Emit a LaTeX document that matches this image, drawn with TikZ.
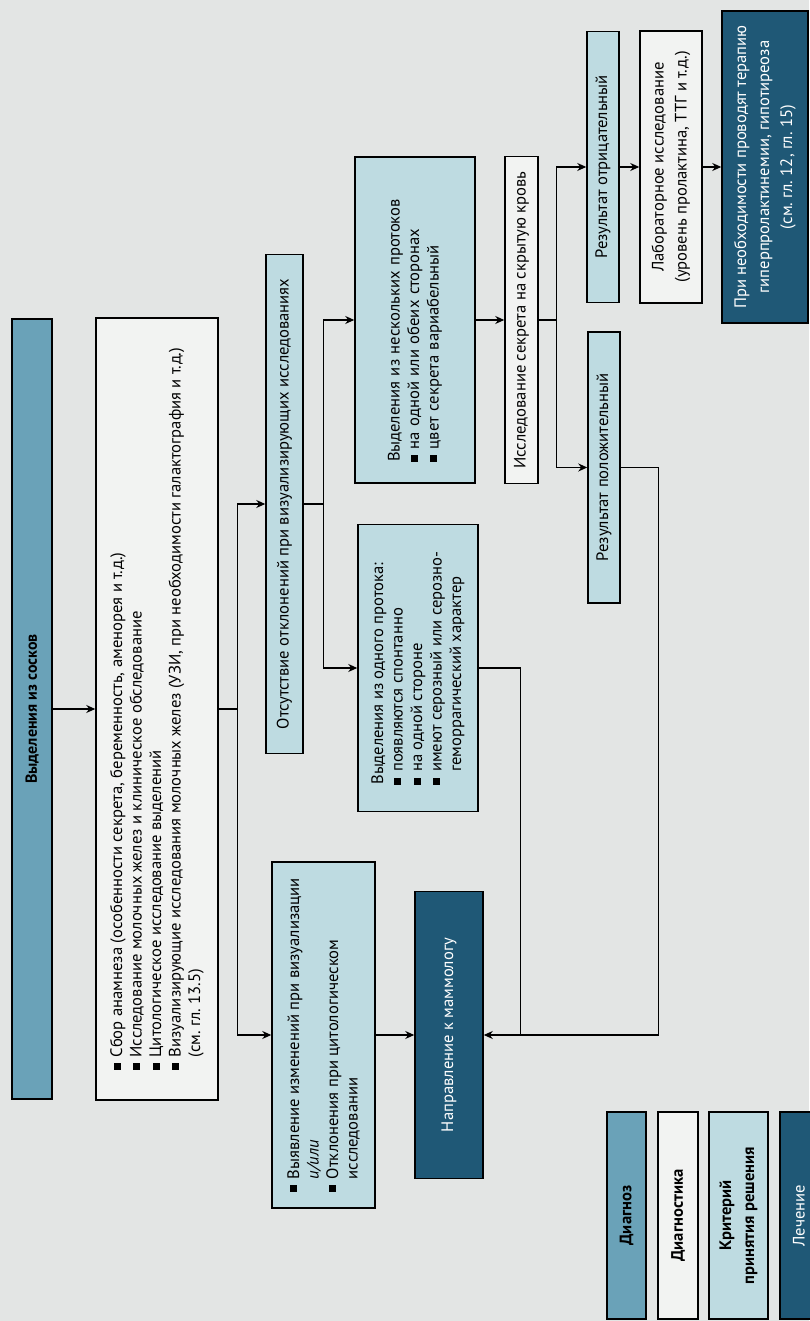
\documentclass[tikz,border=0pt]{standalone}
\usepackage{fontspec}
\setmainfont{PT Sans}
\usetikzlibrary{arrows.meta,calc}

\definecolor{pagegray}{RGB}{227,229,228}
\definecolor{diagblue}{RGB}{106,162,184}
\definecolor{critblue}{RGB}{190,219,225}
\definecolor{treatblue}{RGB}{31,88,118}
\definecolor{testwhite}{RGB}{242,243,242}

\newcommand{\chartfont}{\fontsize{16.6}{19.5}\selectfont}
\newcommand{\widefont}{\fontsize{16.6}{23}\selectfont}
\newcommand{\sqbul}{\rule[0.1em]{0.42em}{0.42em}\hspace{0.35em}}
\newcommand{\sqgap}{\hphantom{\sqbul}}
\frenchspacing

\begin{document}
\begin{tikzpicture}[
  x=1pt,y=1pt,
  every node/.style={font=\chartfont},
  box/.style={draw, line width=1.5pt, inner sep=4pt, align=center},
  diag/.style={box, fill=diagblue},
  test/.style={box, fill=testwhite},
  crit/.style={box, fill=critblue},
  treat/.style={box, fill=treatblue, text=white},
  arrow/.style={-{Stealth[length=9pt,width=8pt]}, line width=1.3pt},
  link/.style={line width=1.3pt}
]
\fill[pagegray] (0,0) rectangle (809,1321);
\useasboundingbox (0,0) rectangle (809,1321);

\begin{scope}[rotate=90, transform shape]
% flow boxes
\node[diag, minimum width=780, minimum height=40, font=\fontsize{16}{19.5}\selectfont\bfseries] (start) at (612,-32) {Выделения из сосков};
\node[test, minimum width=782, minimum height=122, align=left] (exams) at (612,-157)
  {\sqbul Сбор анамнеза (особенности секрета, беременность, аменорея и т.д.)\\
   \sqbul Исследование молочных желез и клиническое обследование\\
   \sqbul Цитологическое исследование выделений\\
   \sqbul Визуализирующие исследования молочных желез (УЗИ, при необходимости галактография и т.д.)\\
   \sqgap(см. гл. 13.5)};
\node[crit, minimum width=346, minimum height=103, align=left] (found) at (286,-323.5)
  {\sqbul Выявление изменений при визуализации\\
   \sqgap\textit{и/или}\\
   \sqbul Отклонения при цитологическом\\
   \sqgap исследовании};
\node[crit, minimum width=499, minimum height=37] (normal) at (817,-284.5) {Отсутствие отклонений при визуализирующих исследованиях};
\node[treat, minimum width=287, minimum height=68] (refer) at (286,-449) {Направление к маммологу};
\node[crit, minimum width=287, minimum height=120, align=left] (single) at (653,-418)
  {Выделения из одного протока:\\
   \sqbul появляются спонтанно\\
   \sqbul на одной стороне\\
   \sqbul имеют серозный или серозно-\\
   \sqgap геморрагический характер};
\node[crit, minimum width=326, minimum height=120, text width=284, inner xsep=21, align=left] (multi) at (1001,-415)
  {Выделения из нескольких протоков\\
   \sqbul на одной или обеих сторонах\\
   \sqbul цвет секрета вариабельный};
\node[test, minimum width=327, minimum height=33] (blood) at (1001,-521.5) {Исследование секрета на скрытую кровь};
\node[crit, minimum width=271, minimum height=32] (neg) at (1154,-603) {Результат отрицательный};
\node[crit, minimum width=271, minimum height=32] (pos) at (853.5,-604) {Результат положительный};
\node[test, minimum width=272, minimum height=62, font=\widefont] (lab) at (1154,-671)
  {Лабораторное исследование\\(уровень пролактина, ТТГ и т.д.)};
\node[treat, minimum width=312, minimum height=86, font=\widefont] (therapy) at (1154,-765)
  {При необходимости проводят терапию\\гиперпролактинемии, гипотиреоза\\(см. гл. 12, гл. 15)};

% legend
\node[diag, minimum width=207, minimum height=39, font=\chartfont\bfseries] (keydiag) at (105.5,-626.5) {Диагноз};
\node[test, minimum width=207, minimum height=40, font=\chartfont\bfseries] (keytest) at (105.5,-678) {Диагностика};
\node[crit, minimum width=207, minimum height=59, font=\widefont\bfseries] (keycrit) at (105.5,-738.5) {Критерий\\принятия решения};
\node[treat, minimum width=207, minimum height=38] (keytreat) at (105.5,-799) {Лечение};

% connectors
\draw[arrow] (start.south) -- (exams.north);
\coordinate (split1) at ($(exams.south)+(0,-19)$);
\draw[link] (exams.south) -- (split1);
\draw[arrow] (split1) -| (found.north);
\draw[arrow] (split1) -| (normal.north);
\draw[arrow] (found.south) -- (refer.north);

\coordinate (split2) at ($(normal.south)+(0,-20)$);
\draw[link] (normal.south) -- (split2);
\draw[arrow] (split2) -| (single.north);
\draw[arrow] (split2) -| (multi.north);

\draw[arrow] (multi.south) -- (blood.north);
\coordinate (split3) at ($(blood.south)+(0,-18)$);
\draw[link] (blood.south) -- (split3);
\draw[arrow] (split3) -| (neg.north);
\draw[arrow] (split3) -| (pos.north);
\draw[arrow] (neg.south) -- (lab.north);
\draw[arrow] (lab.south) -- (therapy.north);

\coordinate (posbend) at ($(pos.south)+(0,-38)$);
\draw[arrow] (pos.south) -- (posbend) -| (refer.south);
\coordinate (singlebend) at ($(single.south)+(0,-42)$);
\draw[link] (single.south) -- (singlebend) -- (singlebend -| refer.south);
\end{scope}
\end{tikzpicture}
\end{document}
